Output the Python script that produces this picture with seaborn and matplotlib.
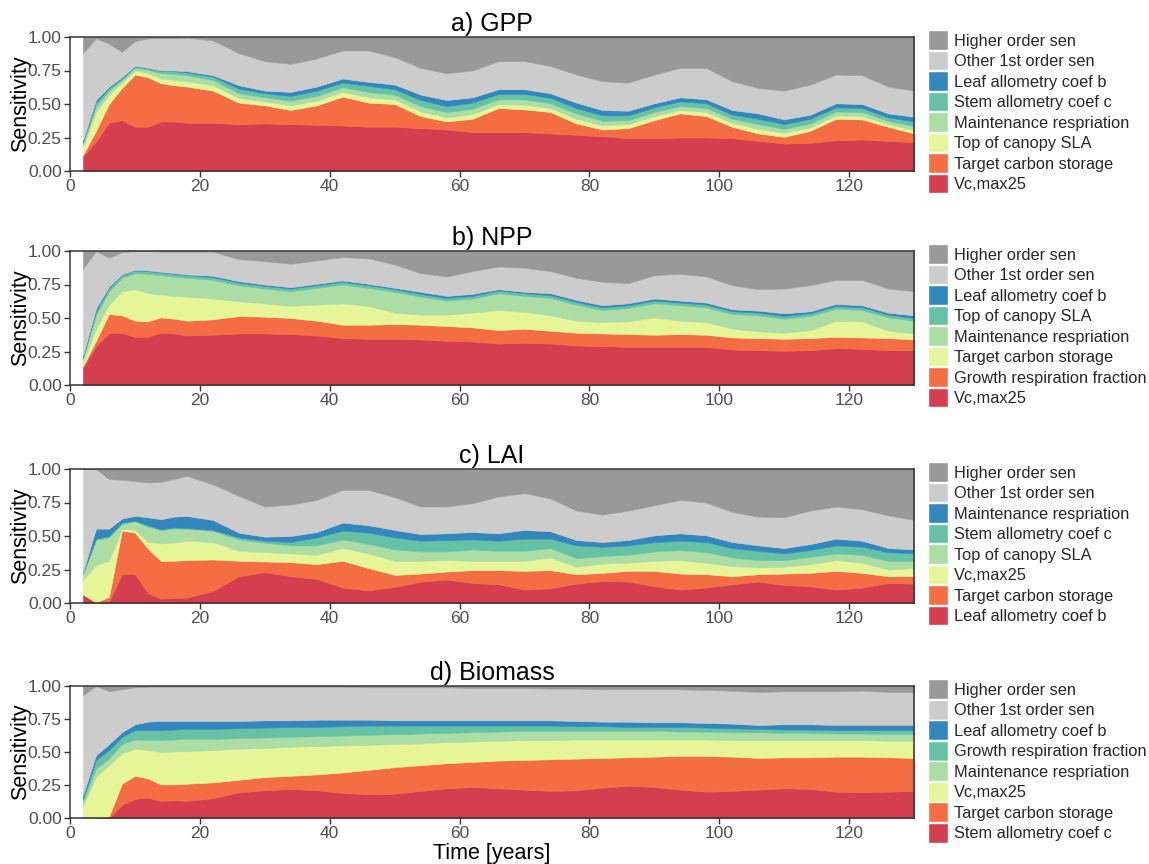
import numpy as np
import matplotlib
matplotlib.use("Agg")
import matplotlib.pyplot as plt
import seaborn as sns
from matplotlib.patches import Patch

# ---------------- data ----------------
years = [2, 4, 6, 8, 10, 12, 14, 16, 18, 22, 26, 30, 34, 38, 42, 46, 50, 54, 58, 62,
         66, 70, 74, 78, 82, 86, 90, 94, 98, 102, 106, 110, 114, 118, 122, 126, 130]

# a) GPP  (layers bottom -> top)
gpp_labels = ["Vc,max25", "Target carbon storage", "Top of canopy SLA", "Maintenance respriation",
              "Stem allometry coef c", "Leaf allometry coef b", "Other 1st order sen", "Higher order sen"]
gpp_l1 = [0.11,0.22,0.36,0.38,0.33,0.33,0.37,0.37,0.36,0.36,0.35,0.355,0.35,0.345,0.34,0.33,0.33,0.32,0.31,0.29,0.29,0.29,0.28,0.27,0.26,0.245,0.245,0.25,0.25,0.245,0.225,0.205,0.21,0.23,0.235,0.225,0.215]
gpp_l2 = [0.01,0.08,0.14,0.24,0.39,0.37,0.285,0.27,0.27,0.24,0.16,0.135,0.105,0.145,0.215,0.18,0.17,0.09,0.06,0.10,0.18,0.17,0.16,0.085,0.05,0.075,0.135,0.18,0.16,0.085,0.055,0.05,0.09,0.16,0.15,0.105,0.065]
gpp_l3 = [0.06,0.14,0.07,0.04,0.03,0.03,0.035,0.04,0.04,0.04,0.035,0.03,0.035,0.035,0.035,0.04,0.035,0.035,0.03,0.035,0.03,0.035,0.03,0.035,0.03,0.03,0.03,0.025,0.03,0.03,0.035,0.03,0.025,0.025,0.025,0.02,0.025]
gpp_l4 = [0.02,0.04,0.03,0.02,0.02,0.025,0.04,0.045,0.045,0.04,0.035,0.03,0.035,0.035,0.035,0.04,0.035,0.04,0.04,0.04,0.035,0.04,0.035,0.04,0.035,0.03,0.03,0.03,0.03,0.03,0.035,0.03,0.03,0.03,0.03,0.025,0.03]
gpp_l5 = [0.02,0.03,0.02,0.01,0.01,0.01,0.015,0.02,0.02,0.025,0.035,0.03,0.035,0.04,0.035,0.045,0.04,0.045,0.045,0.045,0.04,0.04,0.04,0.04,0.04,0.035,0.035,0.035,0.035,0.03,0.04,0.035,0.035,0.03,0.03,0.025,0.035]
gpp_l6 = [0.01,0.02,0.01,0.01,0.005,0.005,0.005,0.005,0.01,0.01,0.025,0.02,0.03,0.03,0.03,0.03,0.035,0.04,0.045,0.04,0.035,0.035,0.035,0.04,0.04,0.035,0.03,0.03,0.03,0.035,0.04,0.035,0.03,0.03,0.03,0.03,0.035]
gpp_other = [0.65,0.46,0.32,0.19,0.185,0.22,0.24,0.24,0.25,0.26,0.24,0.22,0.21,0.21,0.21,0.235,0.205,0.20,0.20,0.20,0.21,0.21,0.205,0.21,0.215,0.21,0.215,0.22,0.235,0.215,0.19,0.215,0.225,0.215,0.215,0.20,0.195]
gpp_higher = [0.12,0.01,0.05,0.11,0.03,0.01,0.01,0.01,0.005,0.025,0.12,0.18,0.20,0.16,0.10,0.10,0.15,0.23,0.27,0.25,0.18,0.18,0.215,0.28,0.33,0.34,0.28,0.23,0.23,0.33,0.38,0.40,0.355,0.28,0.285,0.37,0.40]

# b) NPP
npp_labels = ["Vc,max25", "Growth respiration fraction", "Target carbon storage", "Maintenance respriation",
              "Top of canopy SLA", "Leaf allometry coef b", "Other 1st order sen", "Higher order sen"]
npp_l1 = [0.13,0.29,0.39,0.39,0.36,0.36,0.39,0.385,0.37,0.375,0.385,0.385,0.38,0.37,0.35,0.345,0.345,0.34,0.33,0.325,0.31,0.315,0.31,0.295,0.29,0.285,0.285,0.285,0.285,0.265,0.26,0.255,0.26,0.275,0.27,0.26,0.26]
npp_l2 = [0.01,0.04,0.14,0.13,0.12,0.115,0.115,0.11,0.11,0.115,0.13,0.125,0.12,0.11,0.10,0.105,0.11,0.11,0.11,0.105,0.10,0.105,0.095,0.095,0.095,0.095,0.09,0.095,0.09,0.09,0.09,0.09,0.09,0.085,0.085,0.09,0.08]
npp_l3 = [0.03,0.09,0.07,0.18,0.235,0.21,0.17,0.17,0.18,0.155,0.11,0.10,0.09,0.12,0.16,0.14,0.085,0.075,0.085,0.11,0.15,0.125,0.115,0.09,0.085,0.095,0.13,0.10,0.095,0.065,0.05,0.045,0.06,0.12,0.12,0.055,0.045]
npp_l4 = [0.03,0.10,0.10,0.10,0.12,0.145,0.145,0.145,0.14,0.14,0.12,0.11,0.11,0.125,0.14,0.135,0.155,0.135,0.105,0.105,0.125,0.12,0.13,0.12,0.09,0.10,0.105,0.115,0.11,0.11,0.12,0.105,0.105,0.09,0.085,0.10,0.095]
npp_l5 = [0.01,0.03,0.025,0.02,0.02,0.02,0.02,0.02,0.02,0.02,0.02,0.02,0.02,0.02,0.02,0.02,0.02,0.02,0.02,0.02,0.02,0.02,0.02,0.02,0.02,0.02,0.02,0.02,0.02,0.02,0.02,0.02,0.02,0.02,0.02,0.02,0.02]
npp_l6 = [0.01,0.02,0.01,0.005,0.005,0.005,0.005,0.005,0.005,0.01,0.01,0.01,0.01,0.01,0.01,0.01,0.01,0.015,0.015,0.015,0.01,0.01,0.015,0.015,0.015,0.015,0.015,0.015,0.015,0.015,0.015,0.02,0.015,0.015,0.015,0.015,0.02]
npp_other = [0.65,0.43,0.215,0.165,0.14,0.145,0.15,0.16,0.17,0.18,0.165,0.175,0.175,0.175,0.175,0.19,0.175,0.14,0.145,0.17,0.17,0.18,0.165,0.165,0.175,0.15,0.175,0.20,0.195,0.18,0.16,0.185,0.195,0.18,0.19,0.18,0.18]
npp_higher = [0.13,0.0,0.05,0.01,0.0,0.0,0.005,0.005,0.005,0.005,0.06,0.075,0.095,0.07,0.045,0.055,0.10,0.165,0.19,0.15,0.115,0.125,0.15,0.20,0.23,0.24,0.18,0.17,0.19,0.255,0.285,0.28,0.255,0.215,0.215,0.28,0.30]

# c) LAI
lai_labels = ["Leaf allometry coef b", "Target carbon storage", "Vc,max25", "Top of canopy SLA",
              "Stem allometry coef c", "Maintenance respriation", "Other 1st order sen", "Higher order sen"]
lai_l1 = [0.063,0.005,0.01,0.215,0.215,0.075,0.033,0.04,0.04,0.09,0.20,0.23,0.20,0.18,0.115,0.095,0.12,0.16,0.175,0.15,0.14,0.10,0.11,0.145,0.165,0.16,0.125,0.10,0.115,0.14,0.16,0.135,0.125,0.10,0.115,0.15,0.145]
lai_l2 = [0.0,0.0,0.035,0.325,0.31,0.33,0.282,0.275,0.28,0.235,0.115,0.08,0.105,0.11,0.20,0.165,0.09,0.06,0.06,0.095,0.105,0.14,0.135,0.07,0.06,0.08,0.115,0.12,0.10,0.06,0.055,0.085,0.10,0.14,0.11,0.05,0.055]
lai_l3 = [0.107,0.28,0.27,0.015,0.02,0.05,0.13,0.135,0.145,0.13,0.075,0.07,0.065,0.07,0.095,0.11,0.105,0.095,0.085,0.07,0.07,0.075,0.095,0.055,0.07,0.06,0.075,0.10,0.085,0.075,0.05,0.05,0.065,0.08,0.075,0.05,0.06]
lai_l4 = [0.05,0.185,0.175,0.035,0.065,0.115,0.10,0.105,0.09,0.085,0.085,0.07,0.06,0.07,0.065,0.07,0.085,0.07,0.065,0.085,0.075,0.075,0.07,0.065,0.055,0.06,0.07,0.075,0.08,0.065,0.055,0.05,0.055,0.05,0.06,0.065,0.055]
lai_l5 = [0.005,0.01,0.01,0.01,0.005,0.01,0.005,0.01,0.005,0.005,0.015,0.015,0.025,0.06,0.065,0.085,0.09,0.08,0.085,0.075,0.075,0.09,0.07,0.095,0.07,0.07,0.07,0.07,0.075,0.07,0.07,0.05,0.05,0.06,0.06,0.065,0.055]
lai_l6 = [0.005,0.075,0.055,0.03,0.035,0.06,0.075,0.08,0.09,0.075,0.035,0.03,0.045,0.04,0.06,0.055,0.055,0.05,0.05,0.055,0.055,0.065,0.055,0.04,0.035,0.04,0.05,0.055,0.05,0.045,0.04,0.04,0.045,0.05,0.045,0.03,0.03]
lai_other = [0.77,0.445,0.37,0.29,0.26,0.26,0.28,0.28,0.30,0.265,0.275,0.225,0.235,0.24,0.245,0.265,0.245,0.205,0.20,0.215,0.275,0.275,0.245,0.22,0.205,0.22,0.225,0.25,0.245,0.225,0.215,0.23,0.25,0.24,0.235,0.245,0.22]
lai_higher = [0.0,0.0,0.075,0.08,0.09,0.10,0.095,0.075,0.05,0.115,0.20,0.28,0.265,0.23,0.155,0.155,0.21,0.28,0.28,0.255,0.205,0.18,0.22,0.31,0.34,0.31,0.27,0.23,0.25,0.32,0.355,0.36,0.31,0.28,0.30,0.345,0.38]

# d) Biomass
bio_labels = ["Stem allometry coef c", "Target carbon storage", "Vc,max25", "Maintenance respriation",
              "Growth respiration fraction", "Leaf allometry coef b", "Other 1st order sen", "Higher order sen"]
bio_l1 = [0.0,0.0,0.0,0.10,0.145,0.155,0.13,0.135,0.13,0.15,0.195,0.21,0.22,0.21,0.19,0.18,0.185,0.205,0.225,0.235,0.225,0.215,0.205,0.21,0.23,0.245,0.235,0.215,0.20,0.205,0.215,0.225,0.22,0.20,0.195,0.20,0.205]
bio_l2 = [0.0,0.0,0.012,0.16,0.175,0.145,0.125,0.12,0.13,0.12,0.095,0.10,0.10,0.12,0.155,0.185,0.20,0.195,0.19,0.19,0.21,0.225,0.24,0.24,0.225,0.215,0.23,0.255,0.27,0.26,0.24,0.235,0.24,0.265,0.27,0.26,0.25]
bio_l3 = [0.09,0.315,0.388,0.23,0.205,0.215,0.245,0.25,0.245,0.245,0.235,0.22,0.22,0.215,0.205,0.19,0.175,0.165,0.16,0.155,0.15,0.15,0.145,0.145,0.14,0.135,0.13,0.125,0.125,0.125,0.135,0.13,0.13,0.125,0.125,0.125,0.13]
bio_l4 = [0.035,0.06,0.05,0.07,0.07,0.075,0.09,0.09,0.095,0.085,0.08,0.08,0.075,0.075,0.075,0.075,0.075,0.075,0.07,0.07,0.07,0.07,0.07,0.065,0.065,0.065,0.065,0.06,0.06,0.06,0.06,0.055,0.055,0.05,0.05,0.05,0.05]
bio_l5 = [0.02,0.065,0.065,0.055,0.07,0.075,0.075,0.075,0.075,0.075,0.075,0.075,0.075,0.07,0.07,0.07,0.065,0.06,0.055,0.05,0.045,0.04,0.04,0.035,0.035,0.03,0.03,0.035,0.03,0.03,0.025,0.025,0.025,0.025,0.025,0.03,0.03]
bio_l6 = [0.03,0.035,0.045,0.035,0.045,0.065,0.07,0.065,0.06,0.06,0.055,0.055,0.05,0.055,0.05,0.045,0.04,0.04,0.04,0.04,0.04,0.04,0.04,0.04,0.035,0.04,0.035,0.035,0.035,0.035,0.03,0.04,0.04,0.04,0.04,0.04,0.04]
bio_other = [0.755,0.525,0.40,0.325,0.28,0.265,0.26,0.26,0.26,0.26,0.26,0.255,0.255,0.25,0.25,0.245,0.25,0.25,0.25,0.245,0.245,0.245,0.24,0.245,0.245,0.245,0.25,0.25,0.25,0.25,0.25,0.25,0.25,0.255,0.26,0.25,0.25]
bio_higher = [0.07,0.0,0.04,0.025,0.01,0.005,0.005,0.005,0.005,0.005,0.005,0.005,0.005,0.005,0.005,0.01,0.01,0.01,0.01,0.015,0.015,0.015,0.02,0.02,0.025,0.025,0.025,0.025,0.03,0.035,0.045,0.04,0.04,0.04,0.035,0.045,0.045]

layer_colors = ["#D53E4F", "#F46D43", "#E6F598", "#ABDDA4", "#66C2A5", "#3288BD", "#CCCCCC", "#999999"]
x_ticks = [0, 20, 40, 60, 80, 100, 120]
y_ticks = [0.0, 0.25, 0.5, 0.75, 1.0]

panels = [
    ("a) GPP", gpp_labels, [gpp_l1, gpp_l2, gpp_l3, gpp_l4, gpp_l5, gpp_l6, gpp_other, gpp_higher]),
    ("b) NPP", npp_labels, [npp_l1, npp_l2, npp_l3, npp_l4, npp_l5, npp_l6, npp_other, npp_higher]),
    ("c) LAI", lai_labels, [lai_l1, lai_l2, lai_l3, lai_l4, lai_l5, lai_l6, lai_other, lai_higher]),
    ("d) Biomass", bio_labels, [bio_l1, bio_l2, bio_l3, bio_l4, bio_l5, bio_l6, bio_other, bio_higher]),
]

# ---------------- style ----------------
sns.set_theme(style="white")
plt.rcParams['font.family'] = ['Liberation Sans', 'DejaVu Sans']

fig = plt.figure(figsize=(11.49, 8.64), dpi=100)
W, H = 1149, 864
axes_px = [(37, 171), (251, 385), (469, 603), (686, 818)]
left_px, right_px = 70, 914

for (title, labels, layers), (top, bot) in zip(panels, axes_px):
    ax = fig.add_axes([left_px / W, 1 - bot / H, (right_px - left_px) / W, (bot - top) / H])
    ax.stackplot(years, *[np.array(v) for v in layers], colors=layer_colors,
                 edgecolor="face", linewidth=0.4)
    ax.set_xlim(0, 130)
    ax.set_ylim(0, 1)
    ax.set_xticks(x_ticks)
    ax.set_yticks(y_ticks)
    ax.set_yticklabels([f"{t:.2f}" for t in y_ticks])
    ax.tick_params(axis="both", which="both", direction="out", length=4, width=1,
                   colors="#333333", labelcolor="#4D4D4D", labelsize=12.5, pad=2,
                   left=True, bottom=True)
    for s in ax.spines.values():
        s.set_color("#333333")
        s.set_linewidth(1.1)
        s.set_visible(True)
    ax.set_title(title, fontsize=18, color="black", pad=4)
    ax.set_ylabel("Sensitivity", fontsize=15.5, color="black", labelpad=-2)
    ax.grid(False)
    handles = [Patch(facecolor=c, edgecolor="white", linewidth=1) for c in layer_colors][::-1]
    ax.legend(handles, labels[::-1], loc="upper left", bbox_to_anchor=(1.0166, 1.05),
              frameon=False, fontsize=11.8, handlelength=1.22, handleheight=1.47,
              labelspacing=0.05, handletextpad=0.35, borderaxespad=0, borderpad=0)
    last_ax = ax

last_ax.set_xlabel("Time [years]", fontsize=15.5, color="black", labelpad=1)

fig.savefig("out.png", dpi=100, facecolor="white")
